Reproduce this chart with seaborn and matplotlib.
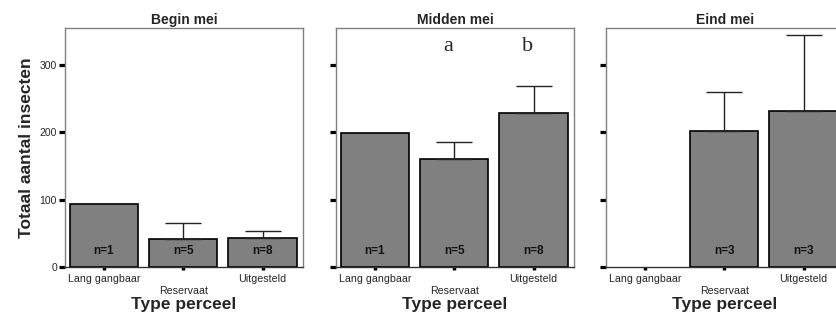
import numpy as np
import pandas as pd
import seaborn as sns
from matplotlib import pyplot as plt

# data
categories = ["Lang gangbaar", "Reservaat", "Uitgesteld"]
tick_labels = ["Lang gangbaar", "\nReservaat", "Uitgesteld"]
periods = ["Begin mei", "Midden mei", "Eind mei"]

begin_mean = [93, 41, 43]
begin_err = [0, 25, 10]
begin_n = ["n=1", "n=5", "n=8"]

midden_mean = [199, 161, 229]
midden_err = [0, 25, 40]
midden_n = ["n=1", "n=5", "n=8"]

eind_mean = [np.nan, 202, 232]
eind_err = [0, 58, 113]
eind_n = ["", "n=3", "n=3"]

letters = {"Midden mei": ["", "a", "b"]}

sns.set_style("white")
plt.rcParams["font.family"] = ["Liberation Sans", "DejaVu Sans"]

fig = plt.figure(figsize=(8.37, 3.24), dpi=100)
lefts = [65 / 837, 336 / 837, 606 / 837]
axes = [fig.add_axes([l, 57 / 324, 238 / 837, 239 / 324]) for l in lefts]

panels = [
    (begin_mean, begin_err, begin_n),
    (midden_mean, midden_err, midden_n),
    (eind_mean, eind_err, eind_n),
]

for i, (ax, period, (means, errs, ns)) in enumerate(zip(axes, periods, panels)):
    df = pd.DataFrame({"type": categories, "value": means}).dropna()
    sns.barplot(data=df, x="type", y="value", order=categories, color="#808080",
                saturation=1, edgecolor="black", linewidth=1.2, width=0.86,
                errorbar=None, ax=ax)
    pos = np.arange(len(categories))
    means_arr = np.array(means, dtype=float)
    errs_arr = np.array(errs, dtype=float)
    has_err = errs_arr > 0
    # one-sided (upper) error bars
    ax.errorbar(pos[has_err], means_arr[has_err],
                yerr=[np.zeros(has_err.sum()), errs_arr[has_err]], fmt="none",
                ecolor="#222222", elinewidth=1, capsize=13, capthick=1)
    for p, label in zip(pos, ns):
        if label:
            ax.text(p, 24, label, ha="center", va="center", fontsize=8.5,
                    fontweight="bold", color="#111111")
    for p, lt in zip(pos, letters.get(period, [])):
        if lt:
            ax.text(p - 0.08, 328, lt, ha="center", va="center", fontsize=16,
                    family=["Liberation Serif", "DejaVu Serif"])

    ax.set_ylim(0, 355)
    ax.set_xlim(-0.49, 2.51)
    ax.set_yticks([0, 100, 200, 300])
    ax.set_xticks(pos)
    ax.set_xticklabels(tick_labels, fontsize=7.7)
    ax.set_title(period, fontsize=10, fontweight="bold", pad=3)
    ax.set_xlabel("Type perceel", fontsize=12.5, fontweight="bold", labelpad=1)
    if i == 0:
        ax.set_ylabel("Totaal aantal insecten", fontsize=12.5, fontweight="bold",
                      labelpad=4)
        ax.tick_params(axis="y", labelsize=7.5)
    else:
        ax.set_ylabel("")
        ax.set_yticklabels([])
    ax.tick_params(axis="y", direction="out", length=4.3, width=2.3,
                   color="black", pad=1.5, left=True)
    ax.tick_params(axis="x", direction="out", length=2.5, width=2.5,
                   color="black", pad=2.5, bottom=True)
    for side in ["top", "right", "left"]:
        ax.spines[side].set_color("#808080")
        ax.spines[side].set_linewidth(1)
    ax.spines["bottom"].set_color("#333333")
    ax.spines["bottom"].set_linewidth(1)

fig.savefig("out.png", dpi=100)
